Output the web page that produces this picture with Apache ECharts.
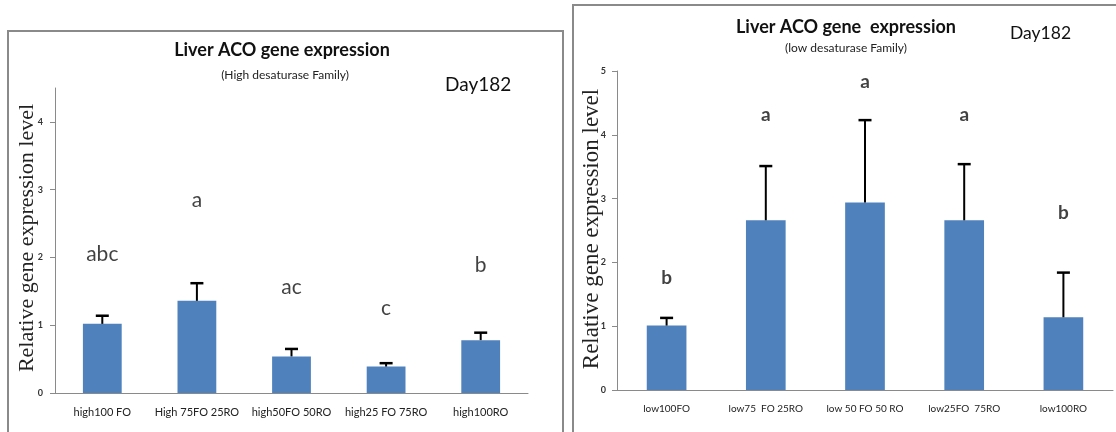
<!DOCTYPE html>
<html>
<head>
<meta charset="utf-8">
<script src="https://cdn.jsdelivr.net/npm/echarts@6/dist/echarts.min.js"></script>
<style>
  html, body { margin: 0; padding: 0; background: #fff; }
  #chart { width: 1116px; height: 432px; }
</style>
</head>
<body>
<div id="chart"></div>
<script>
// Relative ACO expression in liver at day 182, two desaturase families
const highCategories = ['high100 FO', 'High 75FO 25RO', 'high50FO 50RO', 'high25 FO 75RO', 'high100RO'];
const highMeans = [1.02, 1.36, 0.54, 0.39, 0.78];
const highErrors = [0.12, 0.26, 0.11, 0.05, 0.11];
const highLetters = ['abc', 'a', 'ac', 'c', 'b'];
const highLetterY = [2.04, 2.85, 1.56, 1.25, 1.89];
const highTicks = [0, 1, 2, 3, 4];

const lowCategories = ['low100FO', 'low75  FO 25RO', 'low 50 FO 50 RO', 'low25FO  75RO', 'low100RO'];
const lowMeans = [1.01, 2.66, 2.94, 2.66, 1.14];
const lowErrors = [0.12, 0.85, 1.29, 0.88, 0.70];
const lowLetters = ['b', 'a', 'a', 'a', 'b'];
const lowLetterY = [1.76, 4.31, 4.83, 4.31, 2.77];
const lowTicks = [0, 1, 2, 3, 4, 5];

const BAR = '#4F81BD';
const AXIS = '#8a8a8a';
const SANS = 'Lato, "Open Sans", sans-serif';
const SERIF = '"Liberation Serif", "DejaVu Serif", serif';

function errorRenderer(params, api) {
  const x = api.value(0), m = api.value(1), e = api.value(2);
  const p0 = api.coord([x, m]);
  const p1 = api.coord([x, m + e]);
  const half = 6.5;
  return {
    type: 'group',
    children: [
      { type: 'line', shape: { x1: p0[0], y1: p0[1], x2: p1[0], y2: p1[1] }, style: { stroke: '#000', lineWidth: 2 } },
      { type: 'line', shape: { x1: p1[0] - half, y1: p1[1], x2: p1[0] + half, y2: p1[1] }, style: { stroke: '#000', lineWidth: 2.5 } }
    ]
  };
}

function xAxisFor(idx, cats, size) {
  return {
    type: 'category', gridIndex: idx, data: cats,
    axisLine: { lineStyle: { color: AXIS, width: 1 } },
    axisTick: { length: 5, lineStyle: { color: AXIS } },
    axisLabel: { fontFamily: SANS, fontSize: size, color: '#222', margin: 14, interval: 0 }
  };
}

function yAxisFor(idx, max, ticks, margin) {
  return {
    type: 'value', gridIndex: idx, min: 0, max: max, interval: 1,
    splitLine: { show: false },
    axisLine: { show: true, lineStyle: { color: AXIS, width: 1 } },
    axisTick: { show: true, length: 5, customValues: ticks, lineStyle: { color: AXIS } },
    axisLabel: { customValues: ticks, fontFamily: SANS, fontSize: 9, fontWeight: 'bold', color: '#333', margin: margin }
  };
}

function letterSeries(idx, letters, ys, font) {
  return {
    type: 'scatter', xAxisIndex: idx, yAxisIndex: idx, symbolSize: 0, silent: true, z: 5,
    data: letters.map((t, i) => ({ name: t, value: [i, ys[i]] })),
    label: { show: true, position: 'inside', formatter: p => p.name, color: '#111', ...font }
  };
}

const chart = echarts.init(document.getElementById('chart'), null, { renderer: 'canvas' });

chart.setOption({
  animation: false,
  backgroundColor: '#fff',
  grid: [
    { left: 55, top: 88, width: 473, height: 305 },
    { left: 617, top: 71, width: 496, height: 319 }
  ],
  xAxis: [xAxisFor(0, highCategories, 11), xAxisFor(1, lowCategories, 10)],
  yAxis: [yAxisFor(0, 4.5, highTicks, 12), yAxisFor(1, 5, lowTicks, 11)],
  series: [
    { type: 'bar', xAxisIndex: 0, yAxisIndex: 0, data: highMeans, barWidth: '41%', itemStyle: { color: BAR } },
    { type: 'custom', xAxisIndex: 0, yAxisIndex: 0, renderItem: errorRenderer, z: 3,
      data: highMeans.map((m, i) => [i, m, highErrors[i]]) },
    letterSeries(0, highLetters, highLetterY, { fontFamily: SANS, fontSize: 21 }),
    { type: 'bar', xAxisIndex: 1, yAxisIndex: 1, data: lowMeans, barWidth: '40%', itemStyle: { color: BAR } },
    { type: 'custom', xAxisIndex: 1, yAxisIndex: 1, renderItem: errorRenderer, z: 3,
      data: lowMeans.map((m, i) => [i, m, lowErrors[i]]) },
    letterSeries(1, lowLetters, lowLetterY, { fontFamily: SANS, fontSize: 19, fontWeight: 'bold' })
  ],
  graphic: [
    // panel frames
    { type: 'rect', shape: { x: 8, y: 31, width: 555, height: 420 }, style: { fill: 'none', stroke: AXIS, lineWidth: 2 }, z: -1 },
    { type: 'rect', shape: { x: 573, y: 5, width: 560, height: 450 }, style: { fill: 'none', stroke: AXIS, lineWidth: 2 }, z: -1 },
    // left panel headings
    { type: 'text', x: 282, y: 50, style: { text: 'Liver ACO gene expression', font: 'bold 18px ' + SANS, fill: '#111', align: 'center', verticalAlign: 'middle' } },
    { type: 'text', x: 285, y: 75, style: { text: '(High desaturase Family)', font: '12px ' + SANS, fill: '#222', align: 'center', verticalAlign: 'middle' } },
    { type: 'text', x: 445, y: 85, style: { text: 'Day182', font: '19px ' + SANS, fill: '#111', align: 'left', verticalAlign: 'middle' } },
    { type: 'text', x: 27, y: 238, rotation: Math.PI / 2, style: { text: 'Relative gene expression level', font: '22px ' + SERIF, fill: '#222', align: 'center', verticalAlign: 'middle' } },
    // right panel headings
    { type: 'text', x: 846, y: 27, style: { text: 'Liver ACO gene  expression', font: 'bold 18px ' + SANS, fill: '#111', align: 'center', verticalAlign: 'middle' } },
    { type: 'text', x: 846, y: 48, style: { text: '(low desaturase Family)', font: '12px ' + SANS, fill: '#222', align: 'center', verticalAlign: 'middle' } },
    { type: 'text', x: 1010, y: 33, style: { text: 'Day182', font: '17.5px ' + SANS, fill: '#111', align: 'left', verticalAlign: 'middle' } },
    { type: 'text', x: 592, y: 229, rotation: Math.PI / 2, style: { text: 'Relative gene expression level', font: '23px ' + SERIF, fill: '#222', align: 'center', verticalAlign: 'middle' } }
  ]
});
</script>
</body>
</html>
